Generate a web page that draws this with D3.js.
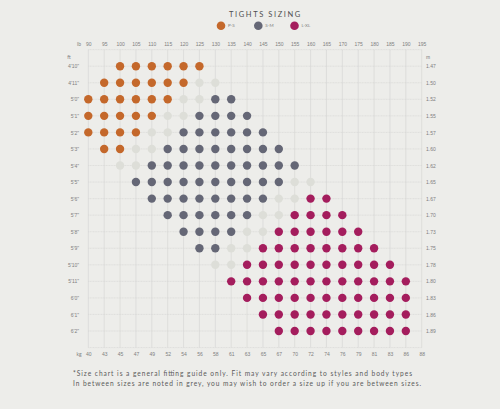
<!DOCTYPE html>
<html>
<head>
<meta charset="utf-8">
<script src="https://cdn.jsdelivr.net/npm/d3@7"></script>
<style>
  body { margin: 0; background: #ededea; }
  svg { display: block; font-family: Lato, "Open Sans", sans-serif; }
  .axis text { fill: #808080; font-size: 5px; }
  .axis path, .axis line { display: none; }
</style>
</head>
<body>
<div id="chart"></div>
<script>
const weightsLb = [90, 95, 100, 105, 110, 115, 120, 125, 130, 135, 140, 145, 150, 155, 160, 165, 170, 175, 180, 185, 190, 195];
const weightsKg = [40, 43, 45, 47, 49, 52, 54, 56, 58, 61, 63, 65, 67, 70, 72, 74, 76, 79, 81, 83, 86, 88];
const heightsFt = ["4'10\"", "4'11\"", "5'0\"", "5'1\"", "5'2\"", "5'3\"", "5'4\"", "5'5\"", "5'6\"", "5'7\"", "5'8\"", "5'9\"", "5'10\"", "5'11\"", "6'0\"", "6'1\"", "6'2\""];
const heightsM = ["1.47", "1.50", "1.52", "1.55", "1.57", "1.60", "1.62", "1.65", "1.67", "1.70", "1.73", "1.75", "1.78", "1.80", "1.83", "1.86", "1.89"];
const sizeNames = ["P-S", "S-M", "L-XL"];

// one string per height row, one character per weight column (90..195 lb)
// P = P-S, S = S-M, L = L-XL, o = in between (grey), . = none
const sizeRows = [
  "..PPPPPP..............",
  ".PPPPPPoo.............",
  "PPPPPPooSS............",
  "PPPPPooSSSS...........",
  "PPPPooSSSSSS..........",
  ".PPooSSSSSSSS.........",
  "..ooSSSSSSSSSS........",
  "...SSSSSSSSSSoo.......",
  "....SSSSSSSSooLL......",
  ".....SSSSSSooLLLL.....",
  "......SSSSooLLLLLL....",
  ".......SSooLLLLLLLL...",
  "........ooLLLLLLLLLL..",
  ".........LLLLLLLLLLLL.",
  "..........LLLLLLLLLLL.",
  "...........LLLLLLLLLL.",
  "............LLLLLLLLL."
];

const colorMap = { P: "#c4682b", S: "#656776", L: "#a41d5d", o: "#ddded8" };
const legendColors = ["#c4682b", "#656776", "#a41d5d"];

const width = 500, height = 409;

const cells = [];
sizeRows.forEach((row, i) => {
  row.split("").forEach((c, j) => {
    if (c !== ".") cells.push({ ft: heightsFt[i], lb: weightsLb[j], size: c });
  });
});

const x = d3.scalePoint().domain(weightsLb).range([88.3, 421.7]);
const y = d3.scalePoint().domain(heightsFt).range([66.2, 331]);
const step = y.step();
const gridTop = y(heightsFt[0]) - step;
const gridBottom = y(heightsFt[heightsFt.length - 1]) + step;

const svg = d3.select("#chart").append("svg")
  .attr("width", width)
  .attr("height", height);

svg.append("rect").attr("width", width).attr("height", height).attr("fill", "#ededea");

// title + legend
svg.append("text")
  .attr("x", 265.5).attr("y", 17)
  .attr("text-anchor", "middle")
  .style("font-size", "7.5px")
  .style("letter-spacing", "1.6px")
  .attr("fill", "#505050")
  .text("TIGHTS SIZING");

const legendX = [221, 258.3, 294.5];
const legend = svg.selectAll(".legend")
  .data(sizeNames)
  .enter().append("g")
  .attr("class", "legend")
  .attr("transform", (d, i) => "translate(" + legendX[i] + ",25.7)");
legend.append("circle").attr("r", 4.3).attr("fill", (d, i) => legendColors[i]);
legend.append("text")
  .attr("x", 7).attr("y", 1.6)
  .style("font-size", "4.5px")
  .attr("fill", "#808080")
  .text((d) => d);

// grid
const grid = svg.append("g").attr("stroke", "#d4d4d1").attr("stroke-width", 0.6);
grid.selectAll(".vline")
  .data(weightsLb)
  .enter().append("line")
  .attr("x1", (d) => x(d)).attr("x2", (d) => x(d))
  .attr("y1", gridTop).attr("y2", gridBottom);
grid.selectAll(".hline")
  .data([gridTop].concat(heightsFt.map((d) => y(d)), [gridBottom]))
  .enter().append("line")
  .attr("x1", x(weightsLb[0])).attr("x2", x(weightsLb[weightsLb.length - 1]))
  .attr("y1", (d) => d).attr("y2", (d) => d)
  .attr("stroke-dasharray", "1,0.6");

// axes
svg.append("g")
  .attr("class", "axis")
  .attr("transform", "translate(0,46)")
  .call(d3.axisTop(x).tickSize(0).tickPadding(0));

svg.append("g")
  .attr("class", "axis")
  .attr("transform", "translate(0,352)")
  .call(d3.axisBottom(x).tickSize(0).tickPadding(0)
    .tickFormat((d, i) => weightsKg[i]));

svg.append("g")
  .attr("class", "axis")
  .attr("transform", "translate(79,0)")
  .call(d3.axisLeft(y).tickSize(0).tickPadding(0));

svg.append("g")
  .attr("class", "axis")
  .attr("transform", "translate(426,0)")
  .call(d3.axisRight(y).tickSize(0).tickPadding(0)
    .tickFormat((d, i) => heightsM[i]));

const unitLabels = [
  { t: "lb", x: 79, y: 46 },
  { t: "kg", x: 79, y: 356 },
  { t: "ft", x: 69, y: 58.5 },
  { t: "m", x: 428, y: 58.5 }
];
svg.selectAll(".unit")
  .data(unitLabels)
  .enter().append("text")
  .attr("x", (d) => d.x).attr("y", (d) => d.y)
  .attr("text-anchor", "middle")
  .style("font-size", "5px")
  .attr("fill", "#808080")
  .text((d) => d.t);

// dots
svg.selectAll(".dot")
  .data(cells)
  .enter().append("circle")
  .attr("class", "dot")
  .attr("cx", (d) => x(d.lb))
  .attr("cy", (d) => y(d.ft))
  .attr("r", 4.2)
  .attr("fill", (d) => colorMap[d.size]);

// footnote
const notes = [
  "*Size chart is a general fitting guide only. Fit may vary according to styles and body types",
  "In between sizes are noted in grey, you may wish to order a size up if you are between sizes."
];
const noteWidths = [339, 348];
svg.selectAll(".note")
  .data(notes)
  .enter().append("text")
  .attr("x", 73)
  .attr("y", (d, i) => 375.5 + i * 10)
  .attr("textLength", (d, i) => noteWidths[i])
  .attr("lengthAdjust", "spacing")
  .style("font-size", "6.6px")
  .attr("fill", "#5a5a5a")
  .text((d) => d);
</script>
</body>
</html>
